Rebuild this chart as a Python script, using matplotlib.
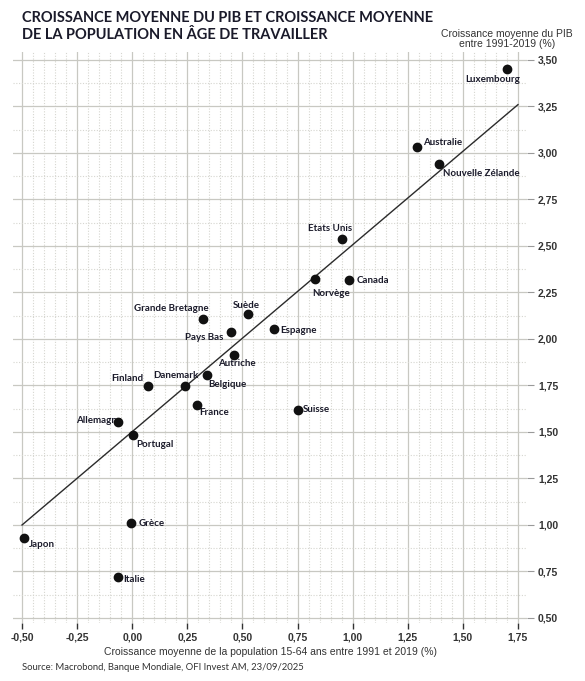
import numpy as np
import matplotlib.pyplot as plt
from matplotlib.ticker import MultipleLocator, FuncFormatter

# Données
pays = ["Luxembourg", "Australie", "Nouvelle Zélande", "Etats Unis", "Norvège",
        "Canada", "Grande Bretagne", "Suède", "Pays Bas", "Espagne", "Autriche",
        "Danemark", "Belgique", "Finland", "France", "Suisse", "Allemagne",
        "Portugal", "Grèce", "Japon", "Italie"]
pop_15_64 = [1.70, 1.29, 1.39, 0.95, 0.83, 0.985, 0.32, 0.525, 0.45, 0.645, 0.46,
             0.24, 0.34, 0.07, 0.295, 0.75, -0.065, 0.005, -0.005, -0.49, -0.065]
pib = [3.45, 3.03, 2.94, 2.54, 2.32, 2.315, 2.11, 2.135, 2.04, 2.055, 1.915,
       1.745, 1.805, 1.745, 1.645, 1.62, 1.555, 1.485, 1.01, 0.93, 0.72]

# droite de tendance
tendance_x = [-0.50, 1.75]
tendance_y = [1.00, 3.26]

# position des étiquettes (décalage en pixels, alignement)
label_pos = {
    "Luxembourg": (-14, -10, "center"),
    "Australie": (6, 5, "left"),
    "Nouvelle Zélande": (4, -9, "left"),
    "Etats Unis": (-12, 10, "center"),
    "Norvège": (16, -14, "center"),
    "Canada": (7, 0, "left"),
    "Grande Bretagne": (-31, 10, "center"),
    "Suède": (-2, 8, "center"),
    "Pays Bas": (-8, -6, "right"),
    "Espagne": (6, -2, "left"),
    "Autriche": (3, -9, "center"),
    "Danemark": (13, 11, "right"),
    "Belgique": (1, -9, "left"),
    "Finland": (-20, 8, "center"),
    "France": (2, -7, "left"),
    "Suisse": (5, 0, "left"),
    "Allemagne": (4, 1, "right"),
    "Portugal": (3, -10, "left"),
    "Grèce": (7, 0, "left"),
    "Japon": (5, -6, "left"),
    "Italie": (5, -2, "left"),
}

fig = plt.figure(figsize=(5.85, 6.81), dpi=100)
ax = fig.add_axes([13 / 585, 58 / 681, 514 / 585, 571 / 681])

ax.set_xlim(-0.541, 1.791)
ax.set_ylim(0.473, 3.543)

for s in ax.spines.values():
    s.set_visible(False)

ax.xaxis.set_major_locator(MultipleLocator(0.25))
ax.xaxis.set_minor_locator(MultipleLocator(0.05))
ax.yaxis.set_major_locator(MultipleLocator(0.25))
ax.yaxis.set_minor_locator(MultipleLocator(0.125))
ax.grid(which="major", color="#c8c8c2", lw=0.9, ls="-")
ax.grid(which="minor", color="#d6d6d0", lw=0.8, ls=(0, (1, 1.5)))
ax.set_axisbelow(True)

fmt = FuncFormatter(lambda v, p: f"{v:.2f}".replace(".", ","))
ax.xaxis.set_major_formatter(fmt)
ax.yaxis.set_major_formatter(fmt)
ax.yaxis.tick_right()
ax.tick_params(axis="x", which="major", length=4, width=1, color="#333333",
               labelsize=7.5, labelcolor="#333333", pad=3)
ax.tick_params(axis="y", which="major", length=5, width=0.8, color="#999999",
               labelsize=7.5, labelcolor="#333333", pad=3)
ax.tick_params(which="minor", length=0)
for t in ax.get_xticklabels() + ax.get_yticklabels():
    t.set_family("Liberation Sans")
    t.set_fontweight("bold")

ax.plot(tendance_x, tendance_y, color="#2b2b2b", lw=1.0, zorder=2)

ax.scatter(pop_15_64, pib, s=36, color="#111111", zorder=4)

for nom, xv, yv in zip(pays, pop_15_64, pib):
    dx, dy, ha = label_pos[nom]
    ax.annotate(nom, (xv, yv), xytext=(dx * 0.72, dy * 0.72),
                textcoords="offset points", ha=ha, va="center",
                fontsize=7, fontweight="bold", family="Lato",
                color="#1a1a2a", zorder=3)

ax.set_xlabel("Croissance moyenne de la population 15-64 ans entre 1991 et 2019 (%)",
              family="Liberation Sans", fontsize=7.5, color="#333333", labelpad=3)

fig.text(22 / 585, 1 - 18 / 681, "CROISSANCE MOYENNE DU PIB ET CROISSANCE MOYENNE",
         family="Lato", fontweight="bold", fontsize=10.5, color="#1a1a2a", va="center")
fig.text(22 / 585, 1 - 35 / 681, "DE LA POPULATION EN ÂGE DE TRAVAILLER",
         family="Lato", fontweight="bold", fontsize=10.5, color="#1a1a2a", va="center")
fig.text(507 / 585, 1 - 39 / 681, "Croissance moyenne du PIB\nentre 1991-2019 (%)",
         family="Liberation Sans", fontsize=7.5, color="#333333", ha="center",
         va="center", linespacing=1.1)
fig.text(22 / 585, 1 - 668 / 681, "Source: Macrobond, Banque Mondiale, OFI Invest AM, 23/09/2025",
         family="Lato", fontsize=6.8, color="#333333", va="center")

fig.savefig("out.png", dpi=100)
